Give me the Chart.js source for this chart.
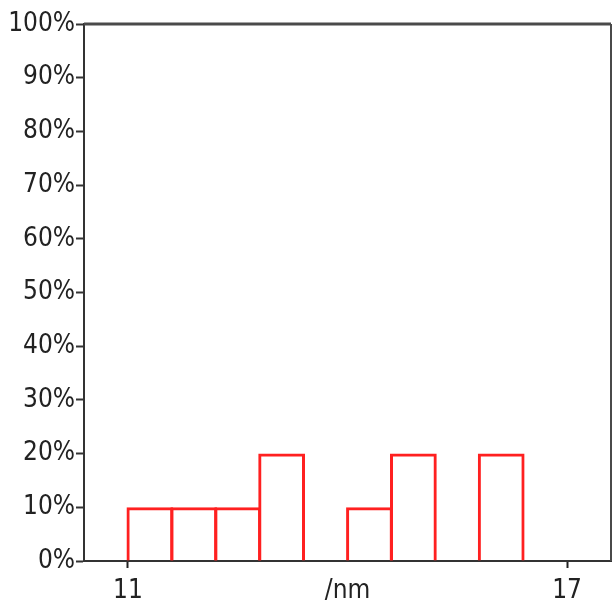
<!DOCTYPE html>
<html>
<head>
<meta charset="utf-8">
<script src="https://cdn.jsdelivr.net/npm/chart.js@4/dist/chart.umd.min.js"></script>
<style>
  html, body { margin: 0; padding: 0; background: #fff; }
  #wrap { width: 613px; height: 607px; }
</style>
</head>
<body>
<div id="wrap"><canvas id="chart"></canvas></div>
<script>
// histogram bins (nm), 0.6 nm wide
const binCenters = [10.7, 11.3, 11.9, 12.5, 13.1, 13.7, 14.3, 14.9, 15.5, 16.1, 16.7, 17.3];
const percents   = [0, 10, 10, 10, 20, 0, 10, 20, 0, 20, 0, 0];

const xTickValues = [11, 14, 17];
const xTickLabels = ['11', '/nm', '17'];
const yTickValues = [0, 10, 20, 30, 40, 50, 60, 70, 80, 90, 100];

const labelFont = { family: "'DejaVu Sans Condensed', 'Liberation Sans', sans-serif", size: 26 };

// top and right frame of the plot box
const frame = {
  id: 'frame',
  afterDraw(chart) {
    const { ctx, chartArea: a } = chart;
    ctx.save();
    ctx.strokeStyle = '#4a4a4a';
    ctx.lineWidth = 3;
    ctx.beginPath();
    ctx.moveTo(a.left, a.top);
    ctx.lineTo(a.right, a.top);
    ctx.stroke();
    ctx.lineWidth = 2;
    ctx.beginPath();
    ctx.moveTo(a.right, a.top);
    ctx.lineTo(a.right, a.bottom);
    ctx.stroke();
    ctx.restore();
  }
};

new Chart(document.getElementById('chart'), {
  type: 'bar',
  data: {
    datasets: [{
      data: binCenters.map((x, i) => ({ x: x, y: percents[i] })),
      backgroundColor: 'rgba(255,255,255,0)',
      borderColor: '#ff2020',
      borderWidth: 3,
      borderSkipped: 'bottom',
      // slight overlap so neighbouring bars share one edge line
      barPercentage: 1.065,
      categoryPercentage: 1
    }]
  },
  options: {
    responsive: true,
    maintainAspectRatio: false,
    animation: false,
    layout: { padding: { top: 24, right: 2, left: 0, bottom: 0 } },
    plugins: { legend: { display: false }, tooltip: { enabled: false } },
    scales: {
      x: {
        type: 'linear',
        min: 10.4,
        max: 17.6,
        offset: false,
        afterBuildTicks: s => { s.ticks = xTickValues.map(v => ({ value: v })); },
        afterFit: s => { s.height = 46; },
        ticks: {
          color: '#222',
          font: labelFont,
          padding: 8,
          maxRotation: 0,
          autoSkip: false,
          callback: v => xTickLabels[xTickValues.indexOf(v)]
        },
        grid: {
          offset: false,
          drawOnChartArea: false,
          tickLength: 7,
          tickWidth: 2,
          tickColor: c => (c.tick && c.tick.value === 14) ? 'rgba(0,0,0,0)' : '#222'
        },
        border: { color: '#333', width: 2 }
      },
      y: {
        min: 0,
        max: 100,
        afterBuildTicks: s => { s.ticks = yTickValues.map(v => ({ value: v })); },
        afterFit: s => { s.width = 84; },
        ticks: {
          color: '#222',
          font: labelFont,
          padding: 1,
          callback: v => v + '%'
        },
        grid: {
          drawOnChartArea: false,
          tickLength: 8,
          tickWidth: 2,
          tickColor: '#333'
        },
        border: { color: '#333', width: 2 }
      }
    }
  },
  plugins: [frame]
});
</script>
</body>
</html>
